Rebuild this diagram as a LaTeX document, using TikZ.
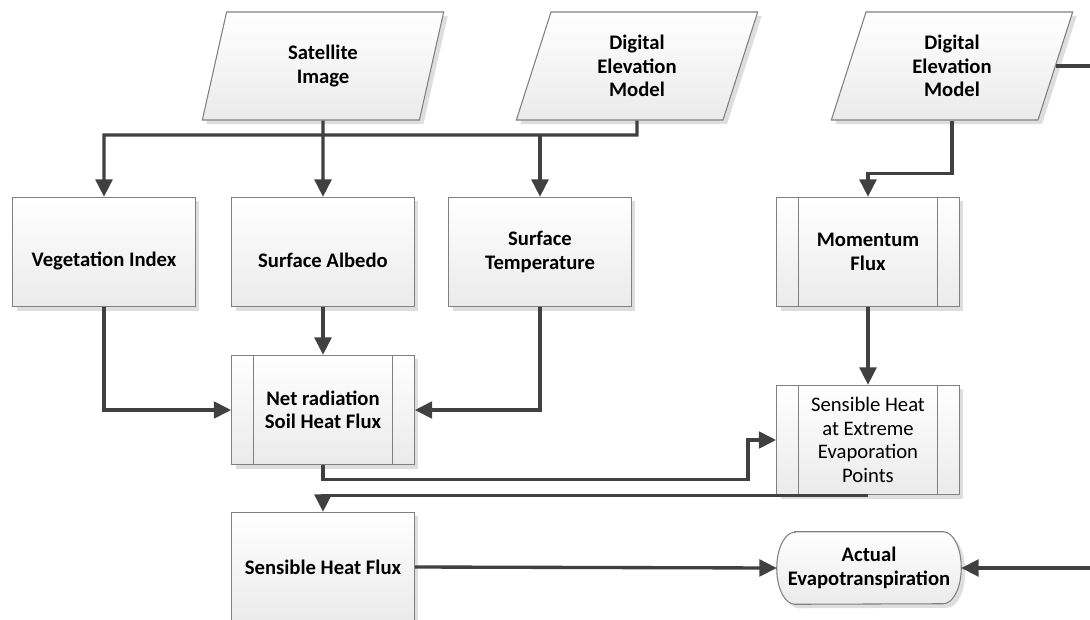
\documentclass[tikz,border=0pt]{standalone}
\usepackage{fontspec}
\setmainfont{Carlito}
\usetikzlibrary{arrows.meta,shapes.geometric,shadows,backgrounds}

\tikzset{
  conn/.style={draw=black!75, line width=2.5pt, -{Triangle[length=13pt,width=12.5pt]}},
  shaded/.style={draw=black!50, line width=0.8pt, top color=white, bottom color=black!8,
    drop shadow={shadow xshift=3pt, shadow yshift=-3pt, fill=black!13, opacity=1}},
  label font/.style={font=\bfseries\fontsize{15.5}{17.6}\selectfont},
  box/.style={shaded, rectangle, minimum width=137pt, minimum height=82pt, align=center,
    inner sep=2pt, label font},
  lowtext/.style={text height=24pt},
  subproc/.style={box, path picture={
    \draw[black!50, line width=0.8pt]
      ([xshift=16.5pt]path picture bounding box.north west) -- ([xshift=16.5pt]path picture bounding box.south west)
      ([xshift=-16.5pt]path picture bounding box.north east) -- ([xshift=-16.5pt]path picture bounding box.south east);}},
  datain/.style={shaded, trapezium, trapezium left angle=62.6, trapezium right angle=117.4,
    trapezium stretches body, minimum width=181pt, minimum height=81pt, align=center,
    inner sep=2pt, label font},
  term/.style={rectangle, minimum width=138pt, minimum height=54pt, align=center,
    inner sep=2pt, label font}
}

\begin{document}
\begin{tikzpicture}[x=0.75pt, y=-0.75pt]
    \useasboundingbox (0,0) rectangle (1090,619);
    % inputs
    \node[datain] (sat) at (323,66) {Satellite\\Image};
    \node[datain] (dem) at (637,66) {Digital\\Elevation\\Model};
    \node[datain] (demr) at (952,66) {Digital\\Elevation\\Model};
    % first row
    \node[box, lowtext] (veg) at (104,252) {Vegetation Index};
    \node[box, lowtext] (alb) at (323,252) {Surface Albedo};
    \node[box] (temp) at (540,252) {Surface\\Temperature};
    \node[subproc] (mom) at (868,252) {Momentum\\Flux};
    % second row
    \node[subproc] (net) at (323,410) {Net radiation\\Soil Heat Flux};
    \node[subproc, font=\fontsize{15.5}{17.6}\selectfont] (ext) at (868,440) {Sensible Heat\\at Extreme\\Evaporation\\Points};
    % outputs
    \node[box] (shf) at (323,567) {Sensible Heat Flux};
    \node[term] (aet) at (869,568) {Actual\\Evapotranspiration};
    \begin{scope}[on background layer]
      % terminator outline with elliptic ends
      \draw[shaded] ([xshift=13.5pt]aet.north west) -- ([xshift=-13.5pt]aet.north east)
        arc[start angle=90, end angle=-90, x radius=13.5pt, y radius=27pt]
        -- ([xshift=13.5pt]aet.south west)
        arc[start angle=270, end angle=90, x radius=13.5pt, y radius=27pt] -- cycle;
    \end{scope}

    \coordinate (bus) at (637,135);
    \draw[conn] (sat.south) -- (alb.north);
    \draw[conn] (dem.south) -- (bus) -| (veg.north);
    \draw[conn] (bus -| temp.north) -- (temp.north);
    \draw[conn] (demr.south) -- ++(0,53) -| (mom.north);
    \draw[conn] (demr.east) -- ++(70,0) |- (aet.east);
    \draw[conn] (veg.south) |- (net.west);
    \draw[conn] (alb.south) -- (net.north);
    \draw[conn] (temp.south) |- (net.east);
    \draw[conn] (mom.south) -- (ext.north);
    \draw[conn] (net.south) -- ++(0,14) -| ([xshift=-21pt]ext.west) -- (ext.west);
    \draw[conn] (ext.south) -| (shf.north);
    \draw[conn] (shf.east) -- (aet.west);
\end{tikzpicture}
\end{document}
